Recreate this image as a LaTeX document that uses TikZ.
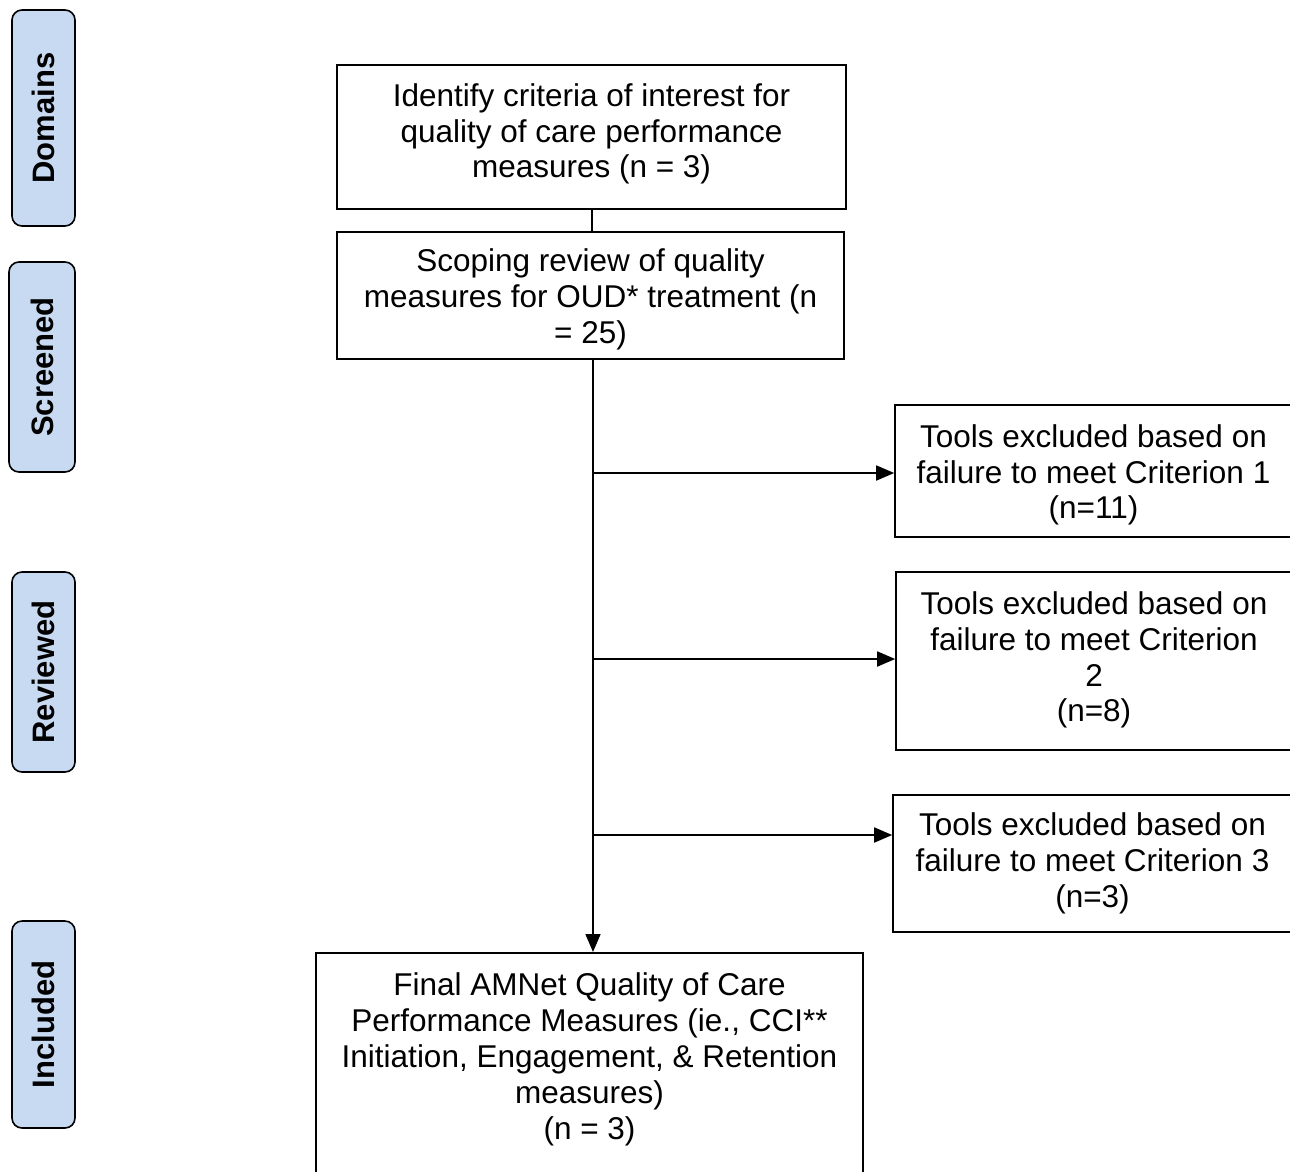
\documentclass[tikz,border=0pt]{standalone}
\usepackage{fontspec}
\setmainfont{Liberation Sans}
\usetikzlibrary{arrows.meta,calc}
\definecolor{sideblue}{RGB}{200,218,242}
\tikzset{
  box/.style={draw=black, line width=1.6pt, inner sep=0pt},
  txt/.style={align=center, inner sep=0pt, font=\fontsize{31.5}{35.8}\selectfont},
  side/.style={draw=black, line width=1.6pt, fill=sideblue, rounded corners=10pt,
    inner sep=0pt, minimum width=63pt},
  sidetxt/.style={rotate=90, font=\fontsize{31}{35}\selectfont\bfseries},
  conn/.style={line width=1.7pt},
  arr/.style={line width=1.7pt, -{Triangle[length=18pt,width=15pt]}}
}
\begin{document}
\begin{tikzpicture}[x=1pt,y=-1pt]
\useasboundingbox (0,0) rectangle (1290,1171);
\clip (0,0) rectangle (1290,1171);
\fill[white] (0,0) rectangle (1290,1171);

% side labels
\node[side, minimum height=216pt] (sd) at (43.5,118) {};
\node[sidetxt] (sdt) at (sd.center) {Domains};
\node[side, minimum height=210pt, minimum width=66pt] (ss) at (42,367) {};
\node[sidetxt] (sst) at (ss.center) {Screened};
\node[side, minimum height=200pt] (sr) at (43.5,672) {};
\node[sidetxt] (srt) at (sr.center) {Reviewed};
\node[side, minimum height=207pt] (si) at (43.5,1024.5) {};
\node[sidetxt] (sit) at (si.center) {Included};

% main boxes
\node[box, minimum width=509pt, minimum height=144pt] (b1) at (591.5,137) {};
\node[txt] (b1t) at ($(b1.center)+(0,-3)$)
  {Identify criteria of interest for\\quality of care performance\\measures (n = 3)};
\node[box, minimum width=507pt, minimum height=127pt] (b2) at (590.5,295.5) {};
\node[txt] (b2t) at ($(b2.center)+(0,4)$)
  {Scoping review of quality\\measures for OUD* treatment (n\\= 25)};

\node[box, minimum width=397pt, minimum height=132pt] (t1) at (1093.5,471) {};
\node[txt] (t1t) at ($(t1.center)+(0,4)$)
  {Tools excluded based on\\failure to meet Criterion 1\\(n=11)};
\node[box, minimum width=396pt, minimum height=178pt] (t2) at (1094,661) {};
\node[txt] (t2t) at ($(t2.center)+(0,-1)$)
  {Tools excluded based on\\failure to meet Criterion\\2\\(n=8)};
\node[box, minimum width=399pt, minimum height=137pt] (t3) at (1092.5,863.5) {};
\node[txt] (t3t) at (t3.center)
  {Tools excluded based on\\failure to meet Criterion 3\\(n=3)};

\node[box, minimum width=547pt, minimum height=260pt, anchor=north] (fin) at (589.5,952) {};
\node[txt, font=\fontsize{31.5}{36.2}\selectfont, anchor=north] (fint)
  at ($(fin.north)+(0,20)$)
  {Final AMNet Quality of Care\\Performance Measures (ie., CCI**\\Initiation, Engagement, \& Retention\\measures)\\(n = 3)};

% connectors
\draw[conn] (b1.south -| 592,0) -- (b2.north -| 592,0);
\coordinate (top) at (593,359);
\coordinate (bot) at (fin.north -| top);
\draw[arr] (top) -- (bot);
\coordinate (j1) at (593,473);
\coordinate (j2) at (593,659);
\coordinate (j3) at (593,835);
\draw[arr] (j1) -- (j1 -| t1.west);
\draw[arr] (j2) -- (j2 -| t2.west);
\draw[arr] (j3) -- (j3 -| t3.west);
\end{tikzpicture}
\end{document}
